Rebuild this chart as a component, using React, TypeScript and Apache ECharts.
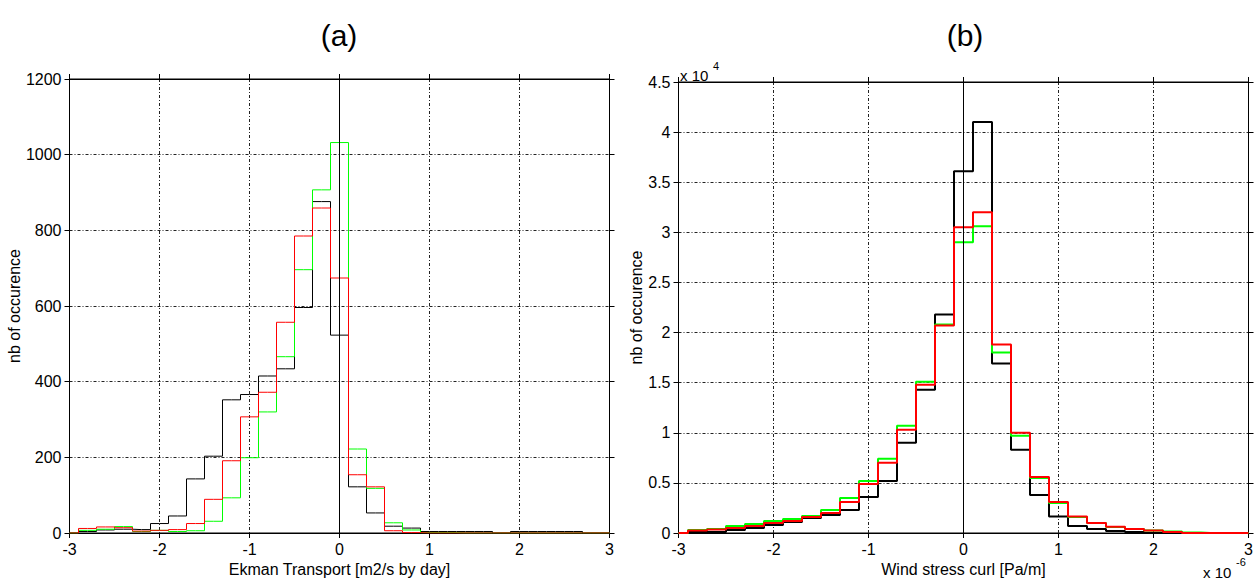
import React, { useEffect, useRef } from 'react';
import * as echarts from 'echarts';

// Bin centres (both panels use 0.2-wide bins)
const binCenters = [
  -3.0, -2.8, -2.6, -2.4, -2.2, -2.0, -1.8, -1.6, -1.4, -1.2, -1.0,
  -0.8, -0.6, -0.4, -0.2, 0.0, 0.2, 0.4, 0.6, 0.8, 1.0,
  1.2, 1.4, 1.6, 1.8, 2.0, 2.2, 2.4, 2.6, 2.8, 3.0,
];

// Panel (a): Ekman transport histogram counts
const ekmanBlack = [
  0, 4, 8, 10, 9, 25, 45, 143, 203, 352, 366,
  415, 434, 596, 876, 523, 122, 53, 18, 13, 4,
  4, 4, 4, 0, 4, 4, 4, 4, 0, 0,
];
const ekmanGreen = [
  0, 7, 10, 17, 4, 7, 4, 6, 31, 93, 199,
  320, 466, 696, 907, 1032, 222, 118, 27, 8, 1,
  1, 0, 0, 0, 0, 0, 0, 0, 0, 0,
];
const ekmanRed = [
  0, 12, 16, 14, 5, 7, 9, 25, 89, 191, 307,
  372, 557, 785, 859, 674, 154, 122, 6, 1, 0,
  0, 0, 0, 0, 0, 0, 0, 0, 0, 0,
];

// Panel (b): wind stress curl histogram counts (units of 1e4)
const curlBlack = [
  0, 0.01, 0.01, 0.03, 0.05, 0.08, 0.11, 0.15, 0.18, 0.23, 0.36,
  0.52, 0.90, 1.43, 2.18, 3.61, 4.10, 1.69, 0.83, 0.38, 0.165,
  0.07, 0.04, 0.02, 0.01, 0, 0, 0, 0, 0, 0,
];
const curlGreen = [
  0, 0.03, 0.04, 0.07, 0.09, 0.12, 0.14, 0.17, 0.23, 0.35, 0.52,
  0.74, 1.07, 1.51, 2.08, 2.90, 3.06, 1.80, 0.97, 0.55, 0.30,
  0.16, 0.10, 0.06, 0.04, 0.025, 0.015, 0.005, 0, 0, 0,
];
const curlRed = [
  0, 0.025, 0.035, 0.05, 0.07, 0.10, 0.12, 0.16, 0.20, 0.31, 0.49,
  0.70, 1.03, 1.48, 2.07, 3.05, 3.20, 1.88, 1.00, 0.56, 0.31,
  0.165, 0.10, 0.063, 0.04, 0.025, 0.01, 0, 0, 0, 0,
];

const FONT = 'Liberation Sans, Arial, Helvetica, sans-serif';
const gridDash = [3, 2, 1, 2];
const TICK_FS = 16;
const NAME_FS = 16;

const zip = (ys: number[]) => binCenters.map((x, i) => [x, ys[i]]);
const fmt = (v: number) => String(Math.round(v * 1000) / 1000);

function makeX(gridIndex: number, name: string, top: boolean) {
  return {
    type: 'value',
    gridIndex,
    min: -3,
    max: 3,
    interval: 1,
    position: top ? 'top' : 'bottom',
    name: top ? '' : name,
    nameLocation: 'middle',
    nameGap: 23,
    nameTextStyle: { fontSize: NAME_FS, color: '#000', fontFamily: FONT },
    axisLine: { show: true, onZero: false, lineStyle: { color: '#000', width: 1 } },
    axisTick: { show: true, inside: false, length: 5, lineStyle: { color: '#000' } },
    axisLabel: { show: !top, fontSize: TICK_FS, color: '#000', fontFamily: FONT, margin: 8, formatter: fmt },
    splitLine: top
      ? { show: false }
      : { show: true, lineStyle: { color: '#222', width: 1, type: gridDash } },
  };
}

function makeY(gridIndex: number, max: number, interval: number, right: boolean) {
  return {
    type: 'value',
    gridIndex,
    min: 0,
    max,
    interval,
    position: right ? 'right' : 'left',
    name: right ? '' : 'nb of occurence',
    nameLocation: 'middle',
    nameGap: 32,
    nameTextStyle: { fontSize: NAME_FS, color: '#000', fontFamily: FONT },
    axisLine: { show: true, onZero: false, lineStyle: { color: '#000', width: 1 } },
    axisTick: { show: true, inside: false, length: 5, lineStyle: { color: '#000' } },
    axisLabel: { show: !right, fontSize: TICK_FS, color: '#000', fontFamily: FONT, margin: 8, formatter: fmt },
    splitLine: right
      ? { show: false }
      : { show: true, lineStyle: { color: '#222', width: 1, type: gridDash } },
  };
}

function stairs(data: number[], color: string, width: number, xi: number, yi: number, zeroLine: boolean) {
  const s: any = {
    type: 'line',
    step: 'middle',
    xAxisIndex: xi,
    yAxisIndex: yi,
    data: zip(data),
    symbol: 'none',
    showSymbol: false,
    lineStyle: { color, width },
    itemStyle: { color },
    silent: true,
  };
  if (zeroLine) {
    s.markLine = {
      silent: true,
      symbol: ['none', 'none'],
      label: { show: false },
      lineStyle: { color: '#000', width: 1, type: 'solid' },
      data: [{ xAxis: 0 }],
    };
  }
  return s;
}

export default function App() {
  const ref = useRef<HTMLDivElement>(null);

  useEffect(() => {
    if (!ref.current) return;
    const chart = echarts.init(ref.current, undefined, { renderer: 'svg' });
    const option: any = {
      animation: false,
      textStyle: { fontFamily: FONT },
      grid: [
        { left: 69.5, top: 79, width: 540, height: 454, containLabel: false, outerBoundsMode: 'none', show: true, borderColor: '#000', borderWidth: 1, backgroundColor: 'transparent' },
        { left: 678.5, top: 82, width: 570, height: 451, containLabel: false, outerBoundsMode: 'none', show: true, borderColor: '#000', borderWidth: 1, backgroundColor: 'transparent' },
      ],
      xAxis: [
        makeX(0, 'Ekman Transport [m2/s by day]', false),
        makeX(0, '', true),
        makeX(1, 'Wind stress curl [Pa/m]', false),
        makeX(1, '', true),
      ],
      yAxis: [
        makeY(0, 1200, 200, false),
        makeY(0, 1200, 200, true),
        makeY(1, 4.5, 0.5, false),
        makeY(1, 4.5, 0.5, true),
      ],
      series: [
        stairs(ekmanBlack, '#000000', 1, 0, 0, true),
        stairs(ekmanGreen, '#00ff00', 1, 0, 0, false),
        stairs(ekmanRed, '#ff0000', 1, 0, 0, false),
        stairs(curlBlack, '#000000', 2, 2, 2, true),
        stairs(curlGreen, '#00ff00', 2, 2, 2, false),
        stairs(curlRed, '#ff0000', 2, 2, 2, false),
      ],
      graphic: [
        { type: 'text', x: 339, y: 35, style: { text: '(a)', fontSize: 30, fontFamily: FONT, fill: '#000', align: 'center', verticalAlign: 'middle' } },
        { type: 'text', x: 965, y: 35, style: { text: '(b)', fontSize: 30, fontFamily: FONT, fill: '#000', align: 'center', verticalAlign: 'middle' } },
        { type: 'text', x: 680, y: 75, style: { text: 'x 10', fontSize: 15, fontFamily: FONT, fill: '#000', align: 'left', verticalAlign: 'middle' } },
        { type: 'text', x: 713, y: 66, style: { text: '4', fontSize: 11, fontFamily: FONT, fill: '#000', align: 'left', verticalAlign: 'middle' } },
        { type: 'text', x: 1203, y: 572, style: { text: 'x 10', fontSize: 15, fontFamily: FONT, fill: '#000', align: 'left', verticalAlign: 'middle' } },
        { type: 'text', x: 1236, y: 562, style: { text: '-6', fontSize: 11, fontFamily: FONT, fill: '#000', align: 'left', verticalAlign: 'middle' } },
      ],
    };
    chart.setOption(option);
    return () => chart.dispose();
  }, []);

  return (
    <div
      ref={ref}
      style={{ position: 'fixed', left: 0, top: 0, width: 1254, height: 579, background: '#fff' }}
    />
  );
}
